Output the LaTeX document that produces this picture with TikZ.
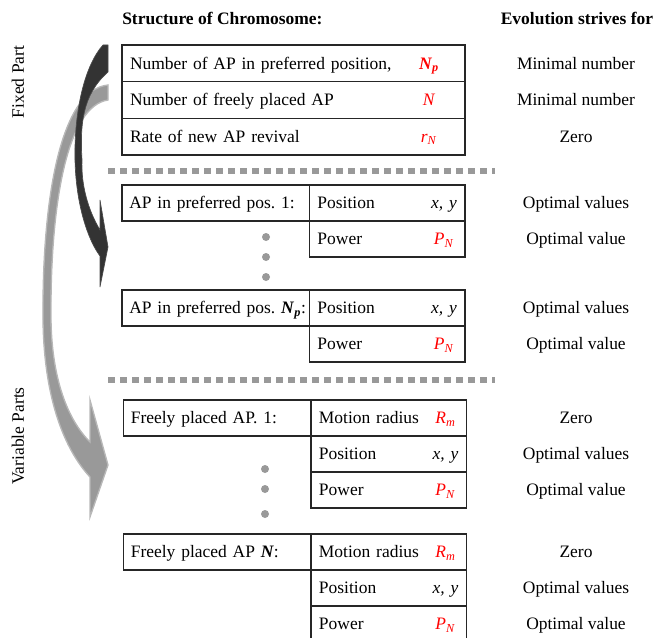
\documentclass[tikz,border=0pt]{standalone}
\usepackage{fontspec}
\setmainfont{Liberation Serif}
\usepackage{tikz}
\usetikzlibrary{positioning}

\frenchspacing
\newcommand{\redsym}[2]{\textcolor{red}{\textit{#1}\textsubscript{\textit{#2}}}}

\begin{document}
\begin{tikzpicture}[x=0.75pt, y=-0.75pt,
    font=\fontsize{13.1pt}{16pt}\selectfont,
    cell/.style={rectangle, draw=black!85, line width=0.9pt, outer sep=0pt,
        inner xsep=6pt, inner ysep=0pt, text height=8.6pt, text depth=0pt,
        align=left, anchor=north west},
    wide/.style={cell, text width=245.25pt, minimum height=27.5pt},
    apcell/.style={cell, inner xsep=5.5pt, text width=129.6pt, minimum height=27pt},
    valcell/.style={cell, text width=104.6pt, minimum height=27pt},
    goal/.style={inner sep=0pt, text height=8.6pt, text depth=0pt},
    head/.style={inner sep=0pt, text height=8.6pt, text depth=0pt, font=\fontsize{13.1pt}{16pt}\selectfont\bfseries},
    side/.style={inner sep=0pt, rotate=90},
    sepline/.style={draw=black!40, line width=4.5pt, dash pattern=on 5.25pt off 3.75pt},
    gdot/.style={fill=black!40},
    darkarrow/.style={fill=black!80, draw=black!70, line width=0.5pt},
    grayarrow/.style={fill=black!40, draw=black!28, line width=1pt}
    ]
    \useasboundingbox (0,0) rectangle (656,638);
    \coordinate (goalcol) at (576,0);

    % headers
    \node (HeadStruct) [head, anchor=west] at (122,19) {Structure of Chromosome:};
    \node (HeadGoal) [head] at (577,19) {Evolution strives for};
    \node (SideFixed) [side] at (18,82) {Fixed Part};
    \node (SideVar) [side] at (18,436) {Variable Parts};

    % bent arrows on the left
    \filldraw [grayarrow] (108,85) .. controls (60,90) and (42,200) .. (43,320)
        .. controls (44,400) and (65,450) .. (90,477) -- (90,517) -- (108,465)
        -- (90,400) -- (90,442) .. controls (68,420) and (52,380) .. (51,320)
        .. controls (50,200) and (68,106) .. (108,100) -- cycle;
    \filldraw [darkarrow] (103,45) -- (108,45) -- (108,72)
        .. controls (82,95) and (80,125) .. (82,160)
        .. controls (81,185) and (88,210) .. (100,230) -- (100,200) -- (108,247)
        -- (100,287) -- (100,256) .. controls (88,240) and (76,205) .. (75,160)
        .. controls (74,110) and (85,65) .. (103,45) -- cycle;

    % fixed part
    \node (Fx1) [wide] at (122,45) {Number of AP in preferred position,\hfill\makebox[42pt]{\textbf{\redsym{N}{p}}}};
    \node (Fx2) [wide, below=0pt of Fx1] {Number of freely placed AP\hfill\makebox[42pt]{\textcolor{red}{\textit{N}}}};
    \node (Fx3) [wide, below=0pt of Fx2] {Rate of new AP revival\hfill\makebox[42pt]{\redsym{r}{N}}};
    \node (GoalFx1) [goal] at (Fx1 -| goalcol) {Minimal number};
    \node (GoalFx2) [goal] at (Fx2 -| goalcol) {Minimal number};
    \node (GoalFx3) [goal] at (Fx3 -| goalcol) {Zero};

    \draw [sepline] (108,171) -- (495,171);

    % preferred positions
    \node (Pref1) [apcell] at (122,185) {AP in preferred pos. 1:};
    \node (PrefPos1) [valcell, right=0pt of Pref1] {Position\hfill\makebox[19.5pt]{\textit{x, y}}};
    \node (PrefPow1) [valcell, below=0pt of PrefPos1] {Power\hfill\makebox[19.5pt]{\redsym{P}{N}}};
    \node (GoalPrefPos1) [goal] at (PrefPos1 -| goalcol) {Optimal values};
    \node (GoalPrefPow1) [goal] at (PrefPow1 -| goalcol) {Optimal value};

    \foreach \y in {237,257,277}
        \fill [gdot] (266,\y) circle (3pt);

    \node (PrefN) [apcell] at (122,290) {\mbox{AP in preferred pos. \textbf{\textit{N}\textsubscript{\textit{p}}}:}};
    \node (PrefPosN) [valcell, right=0pt of PrefN] {Position\hfill\makebox[19.5pt]{\textit{x, y}}};
    \node (PrefPowN) [valcell, below=0pt of PrefPosN] {Power\hfill\makebox[19.5pt]{\redsym{P}{N}}};
    \node (GoalPrefPosN) [goal] at (PrefPosN -| goalcol) {Optimal values};
    \node (GoalPrefPowN) [goal] at (PrefPowN -| goalcol) {Optimal value};

    \draw [sepline] (108,380) -- (495,380);

    % freely placed
    \node (Free1) [apcell] at (123.5,400) {Freely placed AP. 1:};
    \node (FreeRad1) [valcell, right=0pt of Free1] {Motion radius\hfill\makebox[19.5pt]{\redsym{R}{m}}};
    \node (FreePos1) [valcell, below=0pt of FreeRad1] {Position\hfill\makebox[19.5pt]{\textit{x, y}}};
    \node (FreePow1) [valcell, below=0pt of FreePos1] {Power\hfill\makebox[19.5pt]{\redsym{P}{N}}};
    \node (GoalFreeRad1) [goal] at (FreeRad1 -| goalcol) {Zero};
    \node (GoalFreePos1) [goal] at (FreePos1 -| goalcol) {Optimal values};
    \node (GoalFreePow1) [goal] at (FreePow1 -| goalcol) {Optimal value};

    \foreach \y in {469,489,514}
        \fill [gdot] (265,\y) circle (3pt);

    \node (FreeN) [apcell] at (123.5,534) {Freely placed AP \textbf{\textit{N}}:};
    \node (FreeRadN) [valcell, right=0pt of FreeN] {Motion radius\hfill\makebox[19.5pt]{\redsym{R}{m}}};
    \node (FreePosN) [valcell, below=0pt of FreeRadN] {Position\hfill\makebox[19.5pt]{\textit{x, y}}};
    \node (FreePowN) [valcell, below=0pt of FreePosN] {Power\hfill\makebox[19.5pt]{\redsym{P}{N}}};
    \node (GoalFreeRadN) [goal] at (FreeRadN -| goalcol) {Zero};
    \node (GoalFreePosN) [goal] at (FreePosN -| goalcol) {Optimal values};
    \node (GoalFreePowN) [goal] at (FreePowN -| goalcol) {Optimal value};
\end{tikzpicture}
\end{document}
